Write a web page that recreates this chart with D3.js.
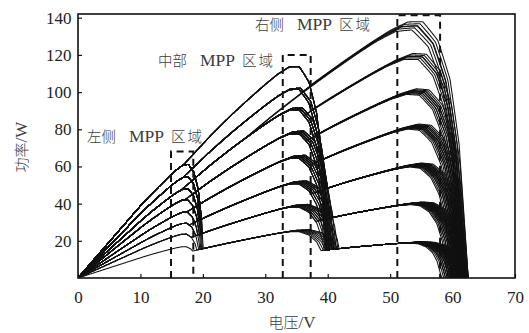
<!DOCTYPE html>
<html>
<head>
<meta charset="utf-8">
<script src="https://cdn.jsdelivr.net/npm/d3@7"></script>
<style>
  body { margin: 0; background: #fff; }
  svg { display: block; }
</style>
</head>
<body>
<svg id="chart" width="529" height="333"></svg>
<script>
// axis ticks
const xTicks = [0, 10, 20, 30, 40, 50, 60, 70];
const yTicks = [20, 40, 60, 80, 100, 120, 140];

// left MPP region: one module conducting (8 irradiance levels)
const leftPeakP = [60.8, 54.2, 47.9, 42.0, 35.4, 29.4, 23.6, 16.8];
const leftVmp = [16.8, 16.8, 16.8, 16.7, 16.7, 16.7, 16.6, 16.6];
const leftVoc = [20.3, 20.2, 20.1, 20.0, 19.9, 19.8, 19.7, 19.6];

// middle MPP region: two modules conducting (top of each group)
const midPeakP = [113.8, 102.0, 91.4, 78.8, 65.7, 51.9, 39.3, 25.8];
const midVmpLo = 33.7, midVmpSpread = 1.4;
const midWidthLo = 6.0, midWidthSpread = 2.0;

// right MPP region: three modules conducting
const rightPeakP = [138, 121, 102, 83, 62, 41, 19.5];
const rightVmp = [52.8, 53.6, 54.2, 54.6, 55.0, 55.2, 55.3];
const rightVocLo = [61.2, 60.8, 60.3, 59.8, 59.2, 58.5, 57.4];
const rightVocHi = 62.5, rightVmpSpread = 2.4;

// normalised module I-V knee: s = (V-Vmp)/(Voc-Vmp), I/Isc
const kneeS = [-2, -1.5, -1, -0.6, -0.3, 0, 0.25, 0.5, 0.7, 0.85, 1];
const kneeI = [1, 0.99, 0.975, 0.962, 0.95, 0.93, 0.89, 0.79, 0.64, 0.42, 0];
const peakFill = 0.932;

// dashed MPP boxes
const boxV0 = [14.9, 32.8, 51.15];
const boxV1 = [18.47, 37.27, 58.0];
const boxTop = [68, 120, 141.3];
const boxLabels = [
  { parts: ['左侧', 'MPP', '区域'], x: 87, y: 142 },
  { parts: ['中部', 'MPP', '区域'], x: 158, y: 66 },
  { parts: ['右侧', 'MPP', '区域'], x: 255, y: 30 }
];

const svg = d3.select('#chart');
const margin = { left: 78, right: 14, top: 14, bottom: 55 };
const W = 529, H = 333;

const x = d3.scaleLinear().domain([0, 70]).range([margin.left, W - margin.right]);
const y = d3.scaleLinear().domain([0, 142]).range([H - margin.bottom, margin.top]);
const knee = d3.scaleLinear().domain(kneeS).range(kneeI).clamp(true);

const L = leftPeakP.map((p, i) => p / (leftVmp[i] * peakFill));
const midVmpTop = midPeakP.map((p, b) => midVmpLo + midVmpSpread * (b + 1) / 8);
const M = midPeakP.map((p, b) => p / (midVmpTop[b] * peakFill));
const R = rightPeakP.map((p, c) => p / (rightVmp[c] * peakFill));

// power of one conducting stage
const stage = (v, I, vmp, voc) => v * I * knee((v - vmp) / (voc - vmp));

// build every shading combination a >= b >= c
const curves = [];
R.forEach((rc, c) => {
  M.forEach((mb, b) => {
    if (mb <= rc * 1.02) return;
    for (let a = 0; a <= b; a++) {
      const shM = (b - a + 1) / 8;
      const mVmp = midVmpLo + midVmpSpread * shM;
      const mVoc = mVmp + midWidthLo + midWidthSpread * shM;
      const sh = ((L[a] - rc) + (mb - rc)) / ((L[0] - rc) + (M[0] - rc));
      const rVmp = rightVmp[c] - rightVmpSpread * (1 - sh);
      const rVoc = rightVocLo[c] + (rightVocHi - rightVocLo[c]) * sh;
      const pts = [];
      for (let v = 0; v <= rVoc + 0.001; v += 0.08) {
        const p = Math.max(
          stage(v, L[a], leftVmp[a], leftVoc[a]),
          stage(v, mb, mVmp, mVoc),
          stage(v, rc, rVmp, rVoc)
        );
        pts.push([v, p]);
      }
      pts.push([rVoc, 0]);
      curves.push(pts);
    }
  });
});

svg.append('defs').append('clipPath').attr('id', 'plot')
  .append('rect')
  .attr('x', x(0)).attr('y', y(142))
  .attr('width', x(70) - x(0)).attr('height', y(0) - y(142));

const line = d3.line().x(d => x(d[0])).y(d => y(d[1]));

svg.append('g')
  .attr('clip-path', 'url(#plot)')
  .selectAll('path.curve')
  .data(curves)
  .join('path')
  .attr('class', 'curve')
  .attr('d', line)
  .attr('fill', 'none')
  .attr('stroke', '#111')
  .attr('stroke-width', 1.05);

// dashed boxes
svg.append('g')
  .selectAll('path.box')
  .data(boxV0.map((v, i) => [v, boxV1[i], boxTop[i]]))
  .join('path')
  .attr('class', 'box')
  .attr('d', d => `M${x(d[0])},${y(0)}V${y(d[2])}H${x(d[1])}V${y(0)}`)
  .attr('fill', 'none')
  .attr('stroke', '#111')
  .attr('stroke-width', 2)
  .attr('stroke-dasharray', '7,5');

// axes
const serif = '"Liberation Serif", "Times New Roman", serif';
const xAxis = svg.append('g')
  .attr('transform', `translate(0,${y(0)})`)
  .call(d3.axisBottom(x).tickValues(xTicks).tickSizeInner(-4).tickSizeOuter(0).tickPadding(13));
const yAxis = svg.append('g')
  .attr('transform', `translate(${x(0)},0)`)
  .call(d3.axisLeft(y).tickValues(yTicks).tickSizeInner(-4).tickSizeOuter(0).tickPadding(6.5));

[xAxis, yAxis].forEach(g => {
  g.select('.domain').remove();
  g.selectAll('line').attr('stroke', '#111').attr('stroke-width', 1.2);
  g.selectAll('text')
    .attr('fill', '#222')
    .attr('font-family', serif)
    .attr('font-size', 17);
});

// frame
svg.append('rect')
  .attr('x', x(0)).attr('y', y(142))
  .attr('width', x(70) - x(0)).attr('height', y(0) - y(142))
  .attr('fill', 'none')
  .attr('stroke', '#111')
  .attr('stroke-width', 1.6);

// box labels
const cjk = '"Noto Sans CJK SC", sans-serif';
boxLabels.forEach(lb => {
  const t = svg.append('text').attr('y', lb.y).attr('fill', '#3c3c3c');
  t.append('tspan').attr('x', lb.x).attr('font-family', cjk).attr('font-size', 14.5)
    .attr('font-weight', 300).text(lb.parts[0]);
  t.append('tspan').attr('x', lb.x + 42).attr('font-family', serif).attr('font-size', 17.5).text(lb.parts[1]);
  t.append('tspan').attr('x', lb.x + 84).attr('font-family', cjk).attr('font-size', 14.5)
    .attr('font-weight', 300).attr('letter-spacing', 2).text(lb.parts[2]);
});

// axis titles
const xt = svg.append('text')
  .attr('x', 292).attr('y', 328)
  .attr('text-anchor', 'middle')
  .attr('fill', '#3c3c3c');
xt.append('tspan').attr('font-family', cjk).attr('font-size', 15).attr('font-weight', 300).text('电压');
xt.append('tspan').attr('font-family', serif).attr('font-size', 17).text('/V');

const yt = svg.append('text')
  .attr('transform', 'translate(27,147) rotate(-90)')
  .attr('text-anchor', 'middle')
  .attr('fill', '#3c3c3c');
yt.append('tspan').attr('font-family', cjk).attr('font-size', 15).attr('font-weight', 300).text('功率');
yt.append('tspan').attr('font-family', serif).attr('font-size', 17).text('/W');
</script>
</body>
</html>
